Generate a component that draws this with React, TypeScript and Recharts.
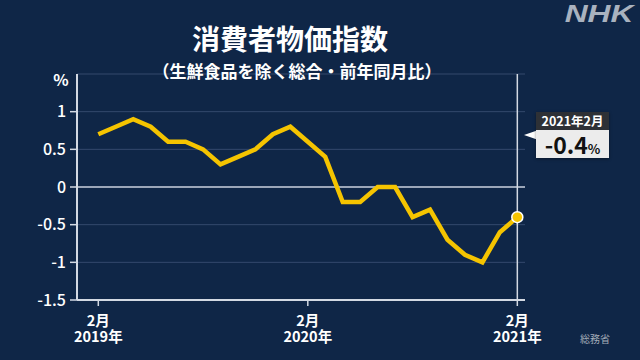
import React from "react";
import { LineChart, Line, XAxis, YAxis, CartesianGrid, ReferenceLine } from "recharts";

const months = [
  "2019年2月", "2019年3月", "2019年4月", "2019年5月", "2019年6月", "2019年7月",
  "2019年8月", "2019年9月", "2019年10月", "2019年11月", "2019年12月", "2020年1月",
  "2020年2月", "2020年3月", "2020年4月", "2020年5月", "2020年6月", "2020年7月",
  "2020年8月", "2020年9月", "2020年10月", "2020年11月", "2020年12月", "2021年1月",
  "2021年2月",
];
const cpi = [
  0.7, 0.8, 0.9, 0.8, 0.6, 0.6, 0.5, 0.3, 0.4, 0.5, 0.7, 0.8,
  0.6, 0.4, -0.2, -0.2, 0.0, 0.0, -0.4, -0.3, -0.7, -0.9, -1.0, -0.6,
  -0.4,
];
const xTickIdx = [0, 12, 24];
const xTickMonths = ["2月", "2月", "2月"];
const xTickYears = ["2019年", "2020年", "2021年"];
const yTicks = [-1.5, -1, -0.5, 0, 0.5, 1];

const title = "消費者物価指数";
const subtitle = "（生鮮食品を除く総合・前年同月比）";
const source = "総務省";
const unit = "%";

const data = months.map((m, i) => ({ i, m, v: cpi[i] }));
const last = data[data.length - 1];

const FONT = '"Noto Sans CJK JP", "Noto Sans", sans-serif';
const BG = "#0f2647";
const AXIS = "#d3d9e3";

const XTick = (props: any) => {
  const { x, y, payload } = props;
  const k = xTickIdx.indexOf(payload.value);
  if (k < 0) return <g />;
  return (
    <foreignObject x={x - 40} y={y + 4} width={80} height={36}>
      <div
        style={{
          width: 80,
          textAlign: "center",
          color: "#ffffff",
          fontSize: 14.5,
          fontWeight: 700,
          fontFamily: FONT,
          lineHeight: "16.3px",
          whiteSpace: "nowrap",
        }}
      >
        {xTickMonths[k]}
        <br />
        {xTickYears[k]}
      </div>
    </foreignObject>
  );
};

const renderDot = (props: any) => {
  const { cx, cy, index } = props;
  if (index !== data.length - 1) return <g key={`d${index}`} />;
  return <circle key={`d${index}`} cx={cx} cy={cy} r={5.5} fill="#f5c400" stroke="#ffffff" strokeWidth={1.5} />;
};

const lastLabel = last.m;
const lastValue = last.v.toFixed(1);

export default function App() {
  return (
    <div
      style={{
        position: "absolute",
        left: 0,
        top: 0,
        width: 640,
        height: 360,
        background: BG,
        overflow: "hidden",
        fontFamily: FONT,
      }}
    >
      <LineChart width={640} height={360} data={data} margin={{ top: 74, right: 115, left: 0, bottom: 0 }}>
        <CartesianGrid vertical={false} stroke="#34496d" strokeWidth={1} />
        <XAxis
          type="number"
          dataKey="i"
          domain={[-1.22, 24.44]}
          ticks={xTickIdx}
          interval={0}
          height={60}
          tickSize={6}
          axisLine={{ stroke: AXIS, strokeWidth: 2 }}
          tickLine={{ stroke: AXIS, strokeWidth: 1.5 }}
          tick={<XTick />}
          allowDataOverflow
        />
        <YAxis
          type="number"
          domain={[-1.5, 1.5]}
          ticks={yTicks}
          interval={0}
          width={77}
          tickSize={7}
          tickMargin={4}
          axisLine={{ stroke: AXIS, strokeWidth: 2 }}
          tickLine={{ stroke: AXIS, strokeWidth: 1.5 }}
          tick={{ fill: "#ffffff", fontSize: 16, fontFamily: FONT, fontWeight: 500 }}
          tickFormatter={(v: number) => String(v)}
          allowDataOverflow
        />
        <ReferenceLine y={0} stroke="#c5cdd9" strokeWidth={1.5} />
        <ReferenceLine x={24} stroke={AXIS} strokeWidth={1.5} />
        <Line
          type="linear"
          dataKey="v"
          stroke="#f5c400"
          strokeWidth={4.5}
          dot={renderDot}
          activeDot={false}
          isAnimationActive={false}
        />
      </LineChart>

      <div style={{ position: "absolute", left: 140, top: 23.5, width: 300, textAlign: "center", color: "#fff", fontSize: 28, fontWeight: 700, lineHeight: "28px" }}>
        {title}
      </div>
      <div style={{ position: "absolute", left: 97, top: 61.5, width: 400, textAlign: "center", color: "#fff", fontSize: 17, fontWeight: 700, lineHeight: "17px" }}>
        {subtitle}
      </div>
      <div style={{ position: "absolute", left: 48, top: 71, width: 26, textAlign: "center", color: "#fff", fontSize: 16, fontWeight: 700, lineHeight: "16px" }}>
        {unit}
      </div>
      <div
        style={{
          position: "absolute",
          left: 563,
          top: 2,
          width: 72,
          textAlign: "center",
          color: "#a9b2bf",
          fontSize: 24,
          fontWeight: 700,
          fontStyle: "italic",
          fontFamily: '"Liberation Sans", Arial, sans-serif',
          lineHeight: "24px",
          transform: "scaleX(1.32)",
          transformOrigin: "center",
        }}
      >
        NHK
      </div>
      <div style={{ position: "absolute", left: 575, top: 334, width: 40, textAlign: "center", color: "#a3acb8", fontSize: 10, lineHeight: "10px" }}>
        {source}
      </div>

      <svg style={{ position: "absolute", left: 0, top: 0 }} width={640} height={360}>
        <polygon points="524,135 537,130.5 537,139.5" fill="#ffffff" />
      </svg>
      <div style={{ position: "absolute", left: 536, top: 112, width: 73, height: 46, boxShadow: "0 1px 3px rgba(0,0,0,0.4)" }}>
        <div style={{ height: 18, background: "#2e3136", color: "#fff", fontSize: 12.5, fontWeight: 700, lineHeight: "18px", textAlign: "center" }}>
          {lastLabel}
        </div>
        <div style={{ height: 28, background: "#ececec", color: "#111", textAlign: "center", lineHeight: "28px", whiteSpace: "nowrap" }}>
          <span style={{ fontSize: 23, fontWeight: 700 }}>{lastValue}</span>
          <span style={{ fontSize: 13, fontWeight: 700 }}>%</span>
        </div>
      </div>
    </div>
  );
}
